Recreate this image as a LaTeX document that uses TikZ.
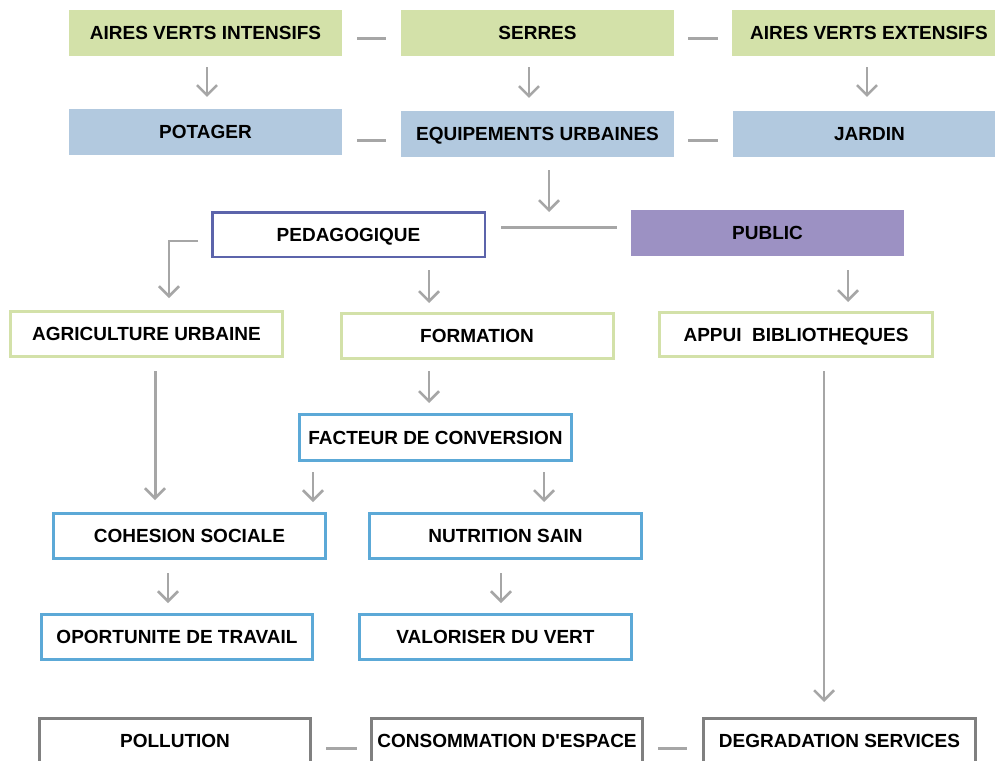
\documentclass[tikz,border=0pt]{standalone}
\usepackage{fontspec}
\setmainfont{Liberation Sans}
\usetikzlibrary{arrows.meta,calc}
\definecolor{gfill}{HTML}{D3E1A9}
\definecolor{bfill}{HTML}{B2C9DF}
\definecolor{pfill}{HTML}{9C91C3}
\definecolor{pedline}{HTML}{5C64AB}
\definecolor{bline}{HTML}{5CA9D7}
\definecolor{grline}{HTML}{808080}
\definecolor{arrgray}{HTML}{A6A6A6}
\begin{document}
\begin{tikzpicture}[x=1pt,y=-1pt,
  every node/.style={font=\fontsize{19pt}{22pt}\selectfont\bfseries, text=black,
    inner sep=2pt, text height=13.6pt, text depth=0pt, rectangle},
  gbox/.style={fill=gfill, minimum width=273pt, minimum height=46pt},
  bbox/.style={fill=bfill, minimum width=273pt, minimum height=46pt},
  pbox/.style={fill=pfill, minimum width=273pt, minimum height=46pt},
  pedbox/.style={draw=pedline, line width=2.5pt, fill=white, minimum width=272.5pt, minimum height=44.5pt},
  lgbox/.style={draw=gfill, line width=3pt, fill=white, minimum width=272pt, minimum height=45pt},
  lbbox/.style={draw=bline, line width=3pt, fill=white, minimum width=272pt, minimum height=45pt},
  lkbox/.style={draw=grline, line width=3pt, fill=white, minimum width=271pt, minimum height=45pt},
  arr/.style={draw=arrgray, line width=2pt, -{Straight Barb[length=10pt,width=20pt,line width=2.5pt]}},
  arrthick/.style={draw=arrgray, line width=3pt, -{Straight Barb[length=10pt,width=20pt,line width=2.5pt]}},
  dash3/.style={draw=arrgray, line width=3pt}]
\clip (0,0) rectangle (995,760);
\fill[white] (0,0) rectangle (995,760);

% row 1
\node[gbox] (avi) at (205.5,33) {AIRES VERTS INTENSIFS};
\node[gbox] (ser) at (537.5,33) {SERRES};
\node[gbox, minimum width=274pt] (ave) at (869,33) {AIRES VERTS EXTENSIFS};
% row 2
\node[bbox] (pot) at (205.5,132) {POTAGER};
\node[bbox] (equ) at (537.5,134) {EQUIPEMENTS URBAINES};
\node[bbox] (jar) at (869.5,134) {JARDIN};
% row 3
\node[pedbox] (ped) at (348.5,234.5) {PEDAGOGIQUE};
\node[pbox] (pub) at (767.5,233) {PUBLIC};
% row 4
\node[lgbox] (agr) at (146.5,334) {AGRICULTURE URBAINE};
\node[lgbox] (for) at (477,336) {FORMATION};
\node[lgbox, minimum width=273pt, minimum height=44pt] (app) at (796,334.5) {APPUI\ \ BIBLIOTHEQUES};
% row 5
\node[lbbox, minimum height=46pt] (fac) at (435.5,437.5) {FACTEUR DE CONVERSION};
% row 6
\node[lbbox] (coh) at (189.5,536) {COHESION SOCIALE};
\node[lbbox] (nut) at (505.5,536) {NUTRITION SAIN};
% row 7
\node[lbbox, minimum width=271pt] (opo) at (177,637) {OPORTUNITE DE TRAVAIL};
\node[lbbox] (val) at (495.5,637) {VALORISER DU VERT};
% row 8
\node[lkbox] (pol) at (175,741) {POLLUTION};
\node[lkbox] (con) at (507,741) {CONSOMMATION D\textquotesingle ESPACE};
\node[lkbox, minimum width=272pt] (deg) at (839.5,741) {DEGRADATION SERVICES};

% undirected dashes
\draw[dash3, shorten <=15pt, shorten >=15pt] ([yshift=-6pt]avi.east) -- ([yshift=-6pt]avi.east -| ser.west);
\draw[dash3, shorten <=14pt, shorten >=14pt] ([yshift=-6pt]ser.east) -- ([yshift=-6pt]ser.east -| ave.west);
\draw[dash3, shorten <=15pt, shorten >=15pt] ([yshift=-8pt]pot.east) -- ([yshift=-8pt]pot.east -| equ.west);
\draw[dash3, shorten <=14pt, shorten >=15pt] ([yshift=-6pt]equ.east) -- ([yshift=-6pt]equ.east -| jar.west);
\draw[dash3, shorten <=15pt, shorten >=14pt] ([yshift=7.5pt]ped.east) coordinate (pl) -- (pl -| pub.west);
\draw[dash3, shorten <=14pt, shorten >=13pt] ([yshift=-7pt]pol.east) -- ([yshift=-7pt]pol.east -| con.west);
\draw[dash3, shorten <=14pt, shorten >=15pt] ([yshift=-7pt]con.east) -- ([yshift=-7pt]con.east -| deg.west);

% arrows
\coordinate (jn) at (549,227);
\draw[arr, shorten <=11pt, shorten >=12pt] ([xshift=1.5pt]avi.south) -- ([xshift=1.5pt]pot.north);
\draw[arr, shorten <=11pt, shorten >=13pt] ([xshift=-8.5pt]ser.south) -- ([xshift=-8.5pt]equ.north);
\draw[arr, shorten <=11pt, shorten >=14pt] ([xshift=-2pt]ave.south) -- ([xshift=-2pt]ave.south |- jar.north);
\draw[arr, shorten <=13pt, shorten >=15pt] (equ.south -| jn) -- (jn);
\draw[arr, shorten >=12pt] ([xshift=-13pt,yshift=-6.5pt]ped.west) -| ([xshift=22.5pt]agr.north);
\draw[arr, shorten <=12pt, shorten >=9pt] ([xshift=-48pt]for.north |- ped.south) -- ([xshift=-48pt]for.north);
\draw[arr, shorten <=14pt, shorten >=9pt] ([xshift=52pt]app.north |- pub.south) -- ([xshift=52pt]app.north);
\draw[arrthick, shorten <=13pt, shorten >=12pt] ([xshift=-34.5pt]coh.north |- agr.south) -- ([xshift=-34.5pt]coh.north);
\draw[arr, shorten <=11pt, shorten >=10pt] ([xshift=-6.5pt]fac.north |- for.south) -- ([xshift=-6.5pt]fac.north);
\draw[arr, shorten <=10pt, shorten >=10pt] ([xshift=123.5pt]coh.north |- fac.south) -- ([xshift=123.5pt]coh.north);
\draw[arr, shorten <=10pt, shorten >=10pt] ([xshift=38.5pt]nut.north |- fac.south) -- ([xshift=38.5pt]nut.north);
\draw[arr, shorten <=13pt, shorten >=10pt] ([xshift=-9pt]opo.north |- coh.south) -- ([xshift=-9pt]opo.north);
\draw[arr, shorten <=13pt, shorten >=10pt] ([xshift=5.5pt]val.north |- nut.south) -- ([xshift=5.5pt]val.north);
\draw[arr, shorten <=13pt, shorten >=15pt] ([xshift=-15.5pt]deg.north |- app.south) -- ([xshift=-15.5pt]deg.north);
\end{tikzpicture}
\end{document}
